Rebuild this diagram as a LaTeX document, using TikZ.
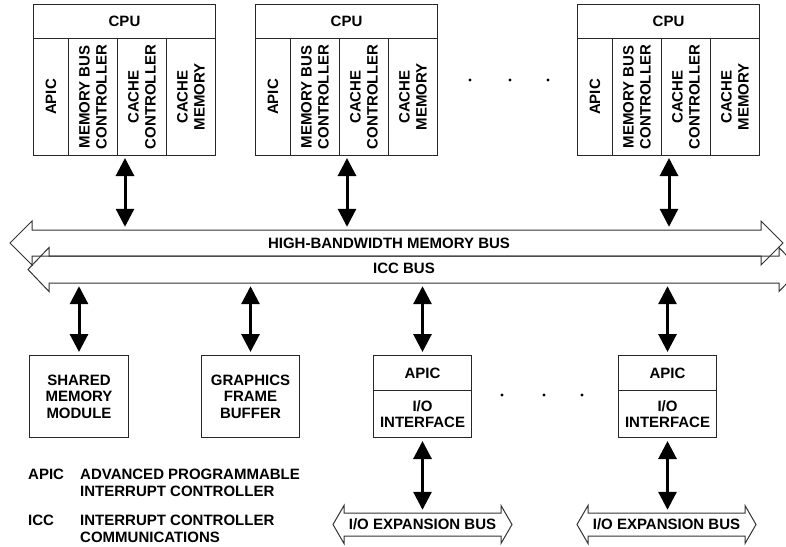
\documentclass[tikz,border=0pt]{standalone}
\usepackage{fontspec}
\setmainfont{Liberation Sans}
\usetikzlibrary{arrows.meta}

% Outline of a double-headed bus arrow:
% #1 left tip x, #2 right tip x, #3 centre y, #4 half shaft, #5 half head, #6 head length
\newcommand\busoutline[6]{%
  \draw[busline] (#1,#3) -- ({#1+#6},{#3-#5}) -- ({#1+#6},{#3-#4})
    -- ({#2-#6},{#3-#4}) -- ({#2-#6},{#3-#5}) -- (#2,#3)
    -- ({#2-#6},{#3+#5}) -- ({#2-#6},{#3+#4}) -- ({#1+#6},{#3+#4})
    -- ({#1+#6},{#3+#5}) -- cycle;}

\tikzset{
  every node/.style={font=\fontsize{15pt}{16.5pt}\selectfont\bfseries, inner sep=0pt},
  cell/.style={draw=black!85, line width=1pt, anchor=north west, align=center},
  vtext/.style={rotate=90, align=center, font=\fontsize{15pt}{17pt}\selectfont\bfseries},
  busline/.style={draw=black!80, line width=1pt, line join=miter},
  shaft/.style={minimum height=#1, minimum width=10pt},
  biarrow/.style={line width=3pt,
    {Triangle[width=18pt,length=18pt]}-{Triangle[width=18pt,length=18pt]},
    shorten <=3pt, shorten >=3pt},
  dot/.style={circle, fill=black, minimum size=3.2pt},
  legend/.style={anchor=west, text height=10.5pt, text depth=0pt},
  pics/cpu/.style={code={
    \node[cell, minimum width=182pt, minimum height=34pt] (-title) at (0,0) {CPU};
    \node[cell, minimum width=35pt, minimum height=117pt,
          label={[vtext]center:APIC}] (-c1) at (0,34) {};
    \node[cell, minimum width=49pt, minimum height=117pt,
          label={[vtext]center:{MEMORY BUS\\CONTROLLER}}] (-c2) at (35,34) {};
    \node[cell, minimum width=49pt, minimum height=117pt,
          label={[vtext]center:{CACHE\\CONTROLLER}}] (-c3) at (84,34) {};
    \node[cell, minimum width=49pt, minimum height=117pt,
          label={[vtext]center:{CACHE\\MEMORY}}] (-c4) at (133,34) {};
    \coordinate (-port) at (92,151);
  }}
}

\begin{document}
\begin{tikzpicture}[x=1pt, y=-1pt]
  \useasboundingbox (0,0) rectangle (786,546);

  % processors
  \pic (cpuA) at (33,4) {cpu};
  \pic (cpuB) at (255,4) {cpu};
  \pic (cpuC) at (577,4) {cpu};
  \node[dot] (d1) at (470,80) {};
  \node[dot] (d2) at (510,80) {};
  \node[dot] (d3) at (548,80) {};

  % system buses
  \busoutline{10}{783}{243}{13}{22}{22}
  \busoutline{28}{800}{269.5}{13.5}{22}{21}
  \node[shaft=26pt] (membus) at (396.5,243) {};
  \node[shaft=27pt] (iccbus) at (414,269.5) {};
  \node (membustext) at (389,243) {HIGH-BANDWIDTH MEMORY BUS};
  \node (iccbustext) at (404,268.5) {ICC BUS};

  % devices on the buses
  \node[cell, minimum width=99pt, minimum height=82pt] (shared) at (29,355)
       {SHARED\\MEMORY\\MODULE};
  \node[cell, minimum width=98pt, minimum height=82pt] (gfx) at (201,355)
       {GRAPHICS\\FRAME\\BUFFER};
  \node[cell, minimum width=98pt, minimum height=35pt] (ioAapic) at (373,355) {APIC};
  \node[cell, minimum width=98pt, minimum height=47pt] (ioAif) at (373,390) {I/O\\INTERFACE};
  \node[cell, minimum width=98pt, minimum height=35pt] (ioBapic) at (618,355) {APIC};
  \node[cell, minimum width=98pt, minimum height=47pt] (ioBif) at (618,390) {I/O\\INTERFACE};
  \node[dot] (d4) at (502,395) {};
  \node[dot] (d5) at (544,395) {};
  \node[dot] (d6) at (582,395) {};

  % expansion buses
  \busoutline{333}{512}{524.5}{11.5}{19}{11}
  \busoutline{577}{756}{524.5}{11.5}{19}{11}
  \node[shaft=23pt] (expA) at (422.5,524.5) {I/O EXPANSION BUS};
  \node[shaft=23pt] (expB) at (666.5,524.5) {I/O EXPANSION BUS};

  % connections
  \draw[biarrow] (cpuA-port) -- (cpuA-port |- membus.north);
  \draw[biarrow] (cpuB-port) -- (cpuB-port |- membus.north);
  \draw[biarrow] (cpuC-port) -- (cpuC-port |- membus.north);
  \draw[biarrow] (shared.north |- iccbus.south) -- (shared.north);
  \draw[biarrow] (gfx.north |- iccbus.south) -- (gfx.north);
  \draw[biarrow] (ioAapic.north |- iccbus.south) -- (ioAapic.north);
  \draw[biarrow] (ioBapic.north |- iccbus.south) -- (ioBapic.north);
  \draw[biarrow] (ioAif.south) -- (ioAif.south |- expA.north);
  \draw[biarrow] (ioBif.south) -- (ioBif.south |- expB.north);

  % abbreviations
  \node[legend] (kA) at (28,474) {APIC};
  \node[legend] (vA1) at (80,474) {ADVANCED PROGRAMMABLE};
  \node[legend] (vA2) at (80,491) {INTERRUPT CONTROLLER};
  \node[legend] (kB) at (28,520) {ICC};
  \node[legend] (vB1) at (80,520) {INTERRUPT CONTROLLER};
  \node[legend] (vB2) at (80,537) {COMMUNICATIONS};
\end{tikzpicture}
\end{document}
